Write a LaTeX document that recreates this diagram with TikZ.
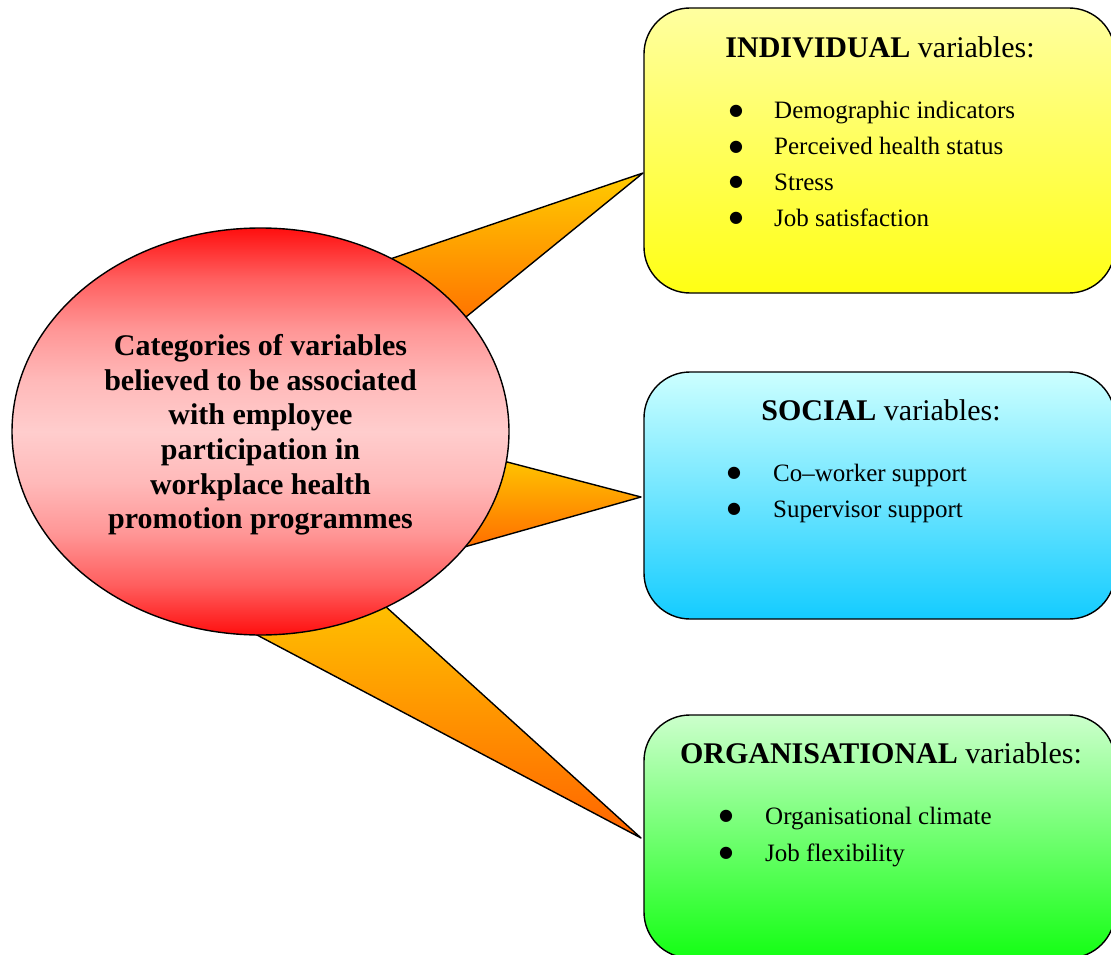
\documentclass[tikz,border=0pt]{standalone}
\usepackage{fontspec}
\setmainfont{Liberation Serif}
\newfontfamily\dotfont{DejaVu Sans}
\usetikzlibrary{shapes.geometric}
\definecolor{ylwtop}{RGB}{255,255,160}
\definecolor{ylwbot}{RGB}{255,255,20}
\definecolor{blutop}{RGB}{204,255,255}
\definecolor{blubot}{RGB}{20,204,255}
\definecolor{grntop}{RGB}{204,255,204}
\definecolor{grnbot}{RGB}{20,255,20}
\definecolor{redend}{RGB}{255,15,15}
\definecolor{redqa}{RGB}{255,95,95}
\definecolor{redqb}{RGB}{255,150,150}
\definecolor{redqc}{RGB}{255,185,185}
\definecolor{redmid}{RGB}{255,205,205}
\definecolor{wedgetop}{RGB}{255,204,0}
\definecolor{wedgebot}{RGB}{255,100,0}
\pgfdeclareverticalshading{redglow}{100bp}{color(0bp)=(redend); color(25bp)=(redend);
  color(31.25bp)=(redqa); color(37.5bp)=(redqb); color(43.75bp)=(redqc); color(50bp)=(redmid);
  color(56.25bp)=(redqc); color(62.5bp)=(redqb); color(68.75bp)=(redqa); color(75bp)=(redend); color(100bp)=(redend)}
\begin{document}
\begin{tikzpicture}[x=1pt,y=-1pt,
  outline/.style={draw=black,line width=1.4pt,line join=round},
  wedge/.style={outline,top color=wedgetop,bottom color=wedgebot},
  varbox/.style={outline,rounded corners=46pt,minimum width=471pt,inner sep=0pt},
  titletext/.style={anchor=base,font=\fontsize{30}{34.6}\selectfont,inner sep=0pt},
  itemtext/.style={anchor=base west,font=\fontsize{25}{36}\selectfont,inner sep=0pt},
  dottext/.style={anchor=center,font=\dotfont\fontsize{16}{16}\selectfont,inner sep=0pt}]
\clip (0,0) rectangle (1111,955);
% wedges
\coordinate (t1) at (643,173); \coordinate (a1) at (355.5,270.8); \coordinate (b1) at (432,344.6);
\coordinate (t2) at (641,497); \coordinate (a2) at (467,451.5); \coordinate (b2) at (429,557);
\coordinate (t3) at (641,838); \coordinate (a3) at (348,572.4); \coordinate (b3) at (216.5,613.6);
\draw[wedge] (a1) -- (t1) -- (b1) -- cycle;
\draw[wedge] (a2) -- (t2) -- (b2) -- cycle;
\draw[wedge] (a3) -- (t3) -- (b3) -- cycle;
% central ellipse
\node[ellipse,outline,minimum width=497pt,minimum height=407pt,inner sep=0pt,
  shading=redglow] (cat) at (260.5,431.5) {};
\node[align=center,inner sep=0pt,font=\bfseries\fontsize{30}{34.6}\selectfont] (cattext) at (260.5,435)
  {Categories of variables\\believed to be associated\\with employee\\participation in\\workplace health\\promotion programmes};
% boxes
\node[varbox,minimum height=285pt,top color=ylwtop,bottom color=ylwbot] (ind) at (879.5,150.5) {};
\node[varbox,minimum height=247pt,top color=blutop,bottom color=blubot] (soc) at (879.5,495.5) {};
\node[varbox,minimum height=243pt,top color=grntop,bottom color=grnbot] (org) at (879.5,836.5) {};
% individual
\node[titletext] (indt) at (880,58) {\textbf{INDIVIDUAL} variables:};
\node[dottext] (indd1) at (736,111) {●}; \node[itemtext] (indi1) at (774,119) {Demographic indicators};
\node[dottext] (indd2) at (736,147) {●}; \node[itemtext] (indi2) at (774,155) {Perceived health status};
\node[dottext] (indd3) at (736,182) {●}; \node[itemtext] (indi3) at (774,190) {Stress};
\node[dottext] (indd4) at (736,218) {●}; \node[itemtext] (indi4) at (774,226) {Job satisfaction};
% social
\node[titletext] (soct) at (881,420) {\textbf{SOCIAL} variables:};
\node[dottext] (socd1) at (734,473) {●}; \node[itemtext] (soci1) at (773,481) {Co–worker support};
\node[dottext] (socd2) at (734,509) {●}; \node[itemtext] (soci2) at (773,517) {Supervisor support};
% organisational
\node[titletext] (orgt) at (881,763) {\textbf{ORGANISATIONAL} variables:};
\node[dottext] (orgd1) at (726,816) {●}; \node[itemtext] (orgi1) at (765,824) {Organisational climate};
\node[dottext] (orgd2) at (726,853) {●}; \node[itemtext] (orgi2) at (765,861) {Job flexibility};
\end{tikzpicture}
\end{document}
